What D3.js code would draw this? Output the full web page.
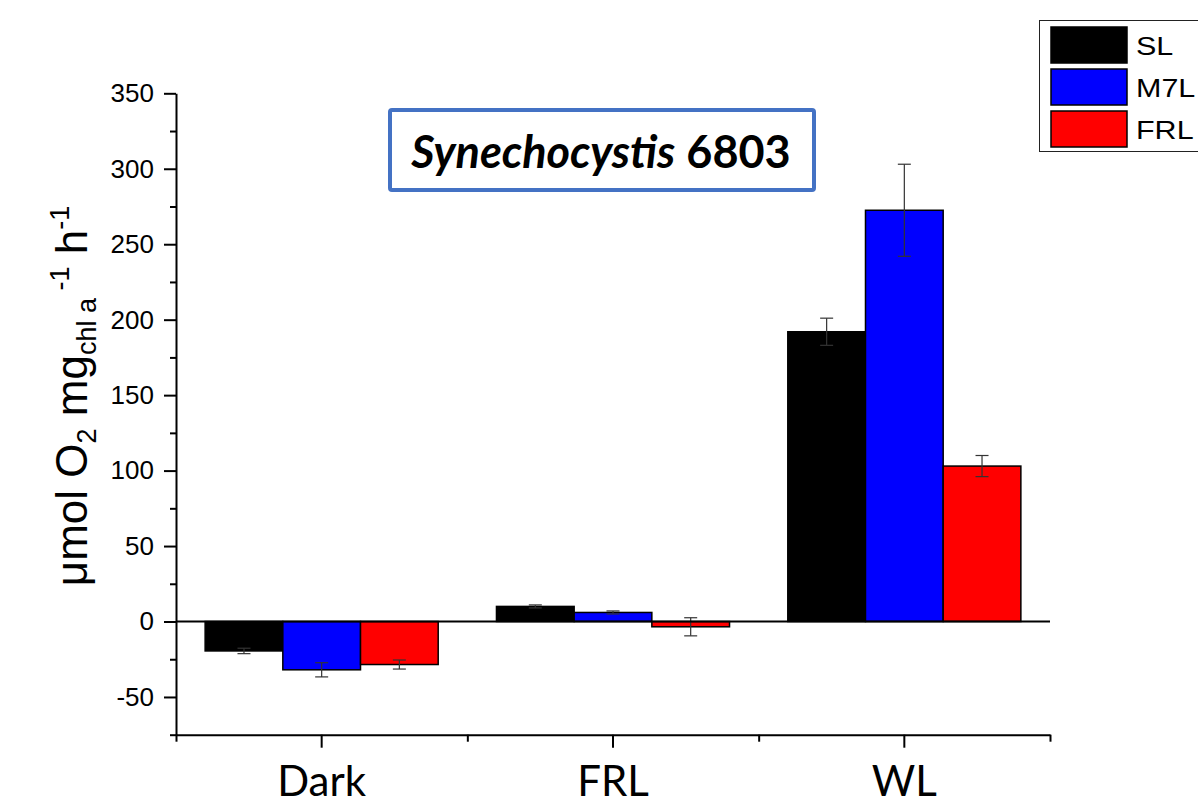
<!DOCTYPE html>
<html>
<head>
<meta charset="utf-8">
<script src="https://cdn.jsdelivr.net/npm/d3@7"></script>
<style>
  html, body { margin: 0; padding: 0; background: #fff; }
  svg { display: block; }
</style>
</head>
<body>
<svg id="chart" width="1198" height="808"></svg>
<script>
// Oxygen evolution / uptake rates per light condition
const categories = ["Dark", "FRL", "WL"];
const seriesNames = ["SL", "M7L", "FRL"];
const seriesColors = ["#000000", "#0000FF", "#FF0000"];
const valuesSL  = [-19.5, 10, 192];
const valuesM7L = [-32, 6, 272.5];
const valuesFRL = [-28.5, -3.5, 103];
const errorsSL  = [1.8, 1, 9];
const errorsM7L = [4.7, 1, 30.5];
const errorsFRL = [3, 6, 7];
const yMajorTicks = [-50, 0, 50, 100, 150, 200, 250, 300, 350];
const yMinorTicks = [-75, -25, 25, 75, 125, 175, 225, 275, 325];

const seriesValues = [valuesSL, valuesM7L, valuesFRL];
const seriesErrors = [errorsSL, errorsM7L, errorsFRL];

const svg = d3.select("#chart");

const plotLeft = 176, plotRight = 1050, plotTop = 93.3, plotBottom = 734.7;

const y = d3.scaleLinear().domain([-75, 350]).range([plotBottom, plotTop]);
const x = d3.scaleBand().domain(categories).range([plotLeft, plotRight])
  .paddingInner(0.2).paddingOuter(0.1);
const xs = d3.scaleBand().domain(seriesNames).range([0, x.bandwidth()]);
const xEdge = d3.scaleLinear().domain([0, categories.length]).range([plotLeft, plotRight]);

const rows = [];
categories.forEach((c, ci) => {
  seriesNames.forEach((s, si) => {
    rows.push({ cat: c, ser: s, si, v: seriesValues[si][ci], e: seriesErrors[si][ci] });
  });
});

// bars
svg.append("g").selectAll("rect").data(rows).join("rect")
  .attr("x", d => x(d.cat) + xs(d.ser))
  .attr("y", d => y(Math.max(0, d.v)))
  .attr("width", xs.bandwidth())
  .attr("height", d => Math.abs(y(d.v) - y(0)))
  .attr("fill", d => seriesColors[d.si])
  .attr("stroke", "#000")
  .attr("stroke-width", 1.5);

// error bars
const eb = svg.append("g").attr("stroke", "#333").attr("stroke-width", 1.2);
rows.forEach(d => {
  const cx = x(d.cat) + xs(d.ser) + xs.bandwidth() / 2;
  const y1 = y(d.v + d.e), y2 = y(d.v - d.e);
  eb.append("line").attr("x1", cx).attr("x2", cx).attr("y1", y1).attr("y2", y2);
  eb.append("line").attr("x1", cx - 6.5).attr("x2", cx + 6.5).attr("y1", y1).attr("y2", y1);
  eb.append("line").attr("x1", cx - 6.5).attr("x2", cx + 6.5).attr("y1", y2).attr("y2", y2);
});

// zero line
svg.append("line")
  .attr("x1", plotLeft).attr("x2", plotRight)
  .attr("y1", y(0)).attr("y2", y(0))
  .attr("stroke", "#000").attr("stroke-width", 2);

// y axis
const yAxis = svg.append("g").attr("transform", `translate(${plotLeft},0)`)
  .call(d3.axisLeft(y).tickValues(yMajorTicks).tickSize(12).tickSizeOuter(0)
    .tickPadding(10).tickFormat(d => String(d)));
yAxis.select(".domain").attr("stroke-width", 2);
yAxis.selectAll(".tick line").attr("stroke-width", 2);
yAxis.selectAll(".tick text")
  .attr("font-family", "Arial, 'Liberation Sans', sans-serif")
  .attr("font-size", 26).attr("fill", "#000");

svg.append("g").attr("transform", `translate(${plotLeft},0)`)
  .call(d3.axisLeft(y).tickValues(yMinorTicks).tickSize(6).tickSizeOuter(0).tickFormat(""))
  .call(g => g.select(".domain").remove())
  .selectAll(".tick line").attr("stroke-width", 2);

// x axis
const xAxis = svg.append("g").attr("transform", `translate(0,${plotBottom})`)
  .call(d3.axisBottom(x).tickSize(13).tickSizeOuter(0).tickPadding(18));
xAxis.select(".domain").attr("stroke-width", 2);
xAxis.selectAll(".tick line").attr("stroke-width", 2);
xAxis.selectAll(".tick text")
  .attr("font-family", "Lato, 'Open Sans', sans-serif")
  .attr("font-size", 42).attr("fill", "#000");

svg.append("g").attr("transform", `translate(0,${plotBottom})`)
  .call(d3.axisBottom(xEdge).tickValues(d3.range(categories.length + 1)).tickSize(7).tickSizeOuter(0).tickFormat(""))
  .call(g => g.select(".domain").remove())
  .selectAll(".tick line").attr("stroke-width", 2);

// y axis title
const yt = svg.append("text")
  .attr("transform", "translate(87,396) rotate(-90)")
  .attr("text-anchor", "middle")
  .attr("font-family", "Arial, 'Liberation Sans', sans-serif")
  .attr("font-size", 44).attr("fill", "#000");
yt.append("tspan").text("μmol O");
yt.append("tspan").attr("font-size", 27).attr("dy", 9).text("2");
yt.append("tspan").attr("dy", -9).text(" mg");
yt.append("tspan").attr("font-size", 27).attr("dy", 9).text("chl a");
yt.append("tspan").attr("font-size", 27).attr("dy", -27).text(" -1");
yt.append("tspan").attr("dy", 18).text(" h");
yt.append("tspan").attr("font-size", 27).attr("dy", -18).text("-1");

// title box
svg.append("rect")
  .attr("x", 390).attr("y", 110).attr("width", 424).attr("height", 80)
  .attr("rx", 2)
  .attr("fill", "#fff").attr("stroke", "#4472C4").attr("stroke-width", 4);
const tt = svg.append("text")
  .attr("x", 601).attr("y", 168)
  .attr("text-anchor", "middle")
  .attr("font-family", "Lato, 'Open Sans', sans-serif")
  .attr("font-weight", "bold")
  .attr("font-size", 45).attr("fill", "#000");
tt.append("tspan").attr("font-style", "italic").text("Synechocystis");
tt.append("tspan").text(" 6803");

// legend
const lg = svg.append("g");
lg.append("rect")
  .attr("x", 1039.5).attr("y", 20.5).attr("width", 180).attr("height", 131)
  .attr("fill", "#fff").attr("stroke", "#222").attr("stroke-width", 1);
seriesNames.forEach((s, i) => {
  const yy = 27 + i * 42;
  lg.append("rect")
    .attr("x", 1051).attr("y", yy).attr("width", 76).attr("height", 36)
    .attr("fill", seriesColors[i]).attr("stroke", "#000").attr("stroke-width", 1.5);
  lg.append("text")
    .attr("transform", `translate(1136,${yy + 28}) scale(1.22,1)`)
    .attr("font-family", "Arial, 'Liberation Sans', sans-serif")
    .attr("font-size", 25).attr("fill", "#000")
    .text(s);
});
</script>
</body>
</html>
